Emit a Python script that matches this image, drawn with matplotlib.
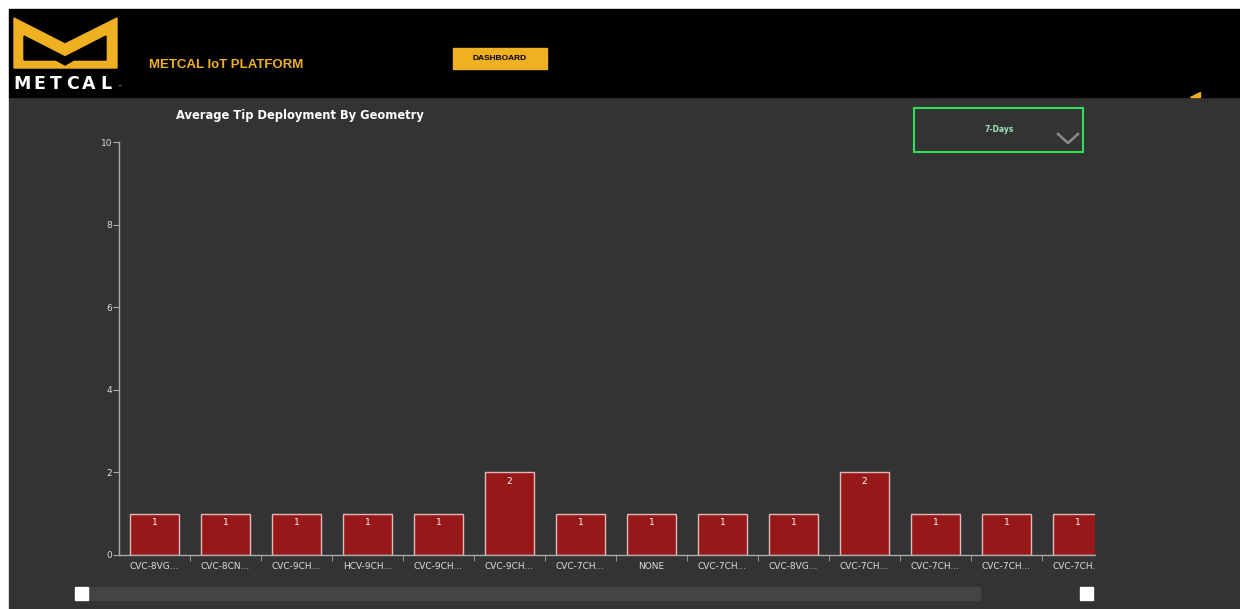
import matplotlib
matplotlib.use('Agg')
import matplotlib.pyplot as plt
from matplotlib.patches import Polygon, Rectangle
from matplotlib.transforms import Bbox

# chart data
categories = ['CVC-8VG...', 'CVC-8CN...', 'CVC-9CH...', 'HCV-9CH...', 'CVC-9CH...',
              'CVC-9CH...', 'CVC-7CH...', 'NONE', 'CVC-7CH...', 'CVC-8VG...',
              'CVC-7CH...', 'CVC-7CH...', 'CVC-7CH...', 'CVC-7CH...']
values = [1, 1, 1, 1, 1, 2, 1, 1, 1, 1, 2, 1, 1, 1]
y_ticks = [0, 2, 4, 6, 8, 10]

W, H = 1240, 609
BG = '#333333'
YELLOW = '#efb021'

fig = plt.figure(figsize=(W / 100, H / 100), dpi=100)
fig.patch.set_facecolor('white')

# page background in pixel coordinates
bg = fig.add_axes([0, 0, 1, 1])
bg.set_xlim(0, W)
bg.set_ylim(H, 0)
bg.axis('off')
bg.add_patch(Rectangle((9, 97), W - 9, H - 97, color=BG))
bg.add_patch(Rectangle((9, 9), W - 9, 88, color='black'))

# logo
bg.add_patch(Polygon([(14, 18), (65, 44), (117, 18), (117, 68), (14, 68)], color=YELLOW))
bg.add_patch(Polygon([(24, 36), (65, 57), (106, 36), (106, 60), (74, 60), (65, 65),
                      (56, 60), (24, 60)], color='black'))
for i, ch in enumerate('METCAL'):
    bg.text(14 + 100 / 6 * (i + 0.5), 84, ch, color='white', fontsize=12.5,
            fontweight='bold', va='center', ha='center')
bg.text(117, 87, '™', color='white', fontsize=3, va='center')

bg.text(149, 65, 'METCAL IoT PLATFORM', color=YELLOW, fontsize=9.5,
        fontweight='bold', va='center', family='Liberation Sans')
bg.add_patch(Rectangle((453, 48), 94, 21, color=YELLOW))
bg.text(500, 58.5, 'DASHBOARD', color='black', fontsize=6, fontweight='bold',
        va='center', ha='center', family='Liberation Sans')
bg.add_patch(Polygon([(1190, 97), (1200, 97), (1200, 92)], color=YELLOW))

# title
bg.text(176, 116, 'Average Tip Deployment By Geometry', color='white', fontsize=8.3,
        fontweight='bold', va='center', ha='left')

# dropdown
bg.add_patch(Rectangle((914, 108), 169, 44, fill=False, edgecolor='#2ee05a', linewidth=1.5))
bg.text(999, 130, '7-Days', color='#9fe0b8', fontsize=5.5, fontweight='bold',
        va='center', ha='center')
bg.plot([1058, 1068, 1078], [134, 143, 134], color='#8a8a8a', linewidth=1.8)

# scrollbar
bg.add_patch(Rectangle((88, 587), 892, 13, color='#444444'))
bg.add_patch(Rectangle((75, 587), 13, 13, color='white'))
bg.add_patch(Rectangle((1080, 587), 13, 13, color='white'))

# chart axes
x0, x1, y0, y1 = 119, 1095, 142, 555
ax = fig.add_axes([x0 / W, (H - y1) / H, (x1 - x0) / W, (y1 - y0) / H])
ax.set_facecolor('none')
pos = list(range(len(categories)))
bars = ax.bar(pos, values, width=0.68, color='#961818', edgecolor='#e0b8b8', linewidth=1)
for p, v in zip(pos, values):
    ax.text(p, v - 0.22, str(v), color='white', fontsize=6.5, ha='center', va='center',
            clip_on=True)
ax.set_yticks(y_ticks)
ax.set_xticks(pos)
ax.set_xticklabels(categories)
ax.set_xticks([p + 0.5 for p in pos], minor=True)
ax.set_xlim(-0.5, (x1 - x0) / 71 - 0.5)
ax.set_ylim(0, 10)
ax.tick_params(axis='x', which='major', length=0, colors='#dddddd', labelsize=6.5, pad=5)
ax.tick_params(axis='x', which='minor', length=4, color='#aaaaaa')
ax.tick_params(axis='y', length=4, color='#aaaaaa', labelcolor='#dddddd', labelsize=6.5, pad=1)
for s in ['top', 'right']:
    ax.spines[s].set_visible(False)
for s in ['left', 'bottom']:
    ax.spines[s].set_color('#aaaaaa')
    ax.spines[s].set_linewidth(1)

# labels are cut at the right edge of the plot area
clip = Bbox.from_extents(0, 0, x1, H)
for lab in ax.get_xticklabels():
    lab.set_clip_box(clip)
    lab.set_clip_on(True)

fig.savefig('out.png', dpi=100, facecolor=fig.get_facecolor())
